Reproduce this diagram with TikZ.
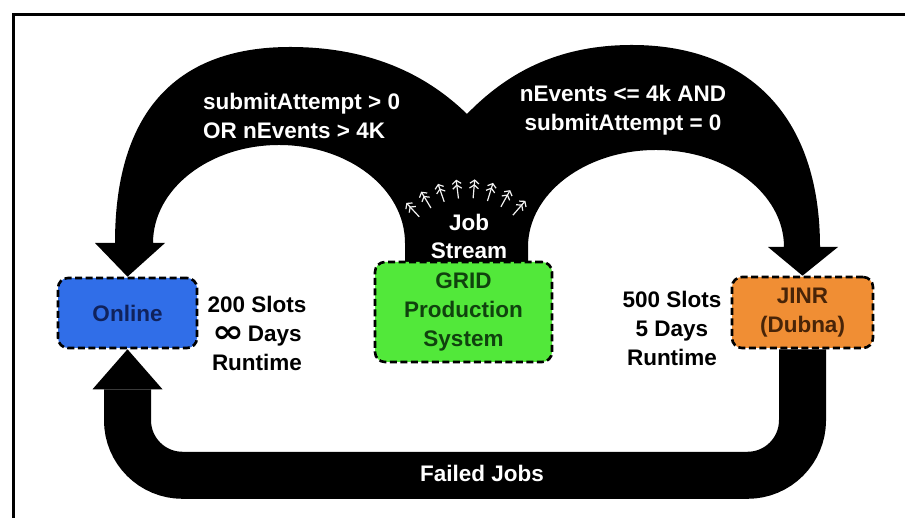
\documentclass[tikz,border=0pt]{standalone}
\usepackage{fontspec}
\setmainfont{Liberation Sans}
\newfontfamily\symfont{DejaVu Sans}
\usepackage{xcolor}
\usepackage{tikz}
\usetikzlibrary{arrows.meta,positioning,calc,backgrounds}
\definecolor{onlineblue}{RGB}{48,110,232}
\definecolor{onlinetext}{RGB}{16,34,92}
\definecolor{gridgreen}{RGB}{82,232,58}
\definecolor{gridtext}{RGB}{16,66,14}
\definecolor{jinrorange}{RGB}{240,142,52}
\definecolor{jinrtext}{RGB}{72,36,8}

\begin{document}
\begin{tikzpicture}[
  x=1pt, y=1pt,
  font=\fontsize{22.5}{29}\selectfont\bfseries,
  box/.style={draw, line width=2.6pt, dash pattern=on 7pt off 3.5pt, rounded corners=10pt, align=center, inner sep=0pt},
  caption/.style={align=center, text=black},
  flow/.style={align=center, text=white},
  band/.style={line width=47pt, rounded corners=55pt},
  jobarrow/.style={draw=gray!10, line width=1.2pt, -{Straight Barb[length=3.5pt,width=9pt]Straight Barb[length=3.5pt,width=9pt]}}
]
  \useasboundingbox (0,0) rectangle (905,518);
  \draw[line width=3pt] (13.5,0) -- (13.5,503) -- (905,503);

  \node[box, fill=onlineblue, text=onlinetext, minimum width=139pt, minimum height=70pt] (online) at (127.5,205) {Online};
  \node[box, fill=gridgreen, text=gridtext, minimum width=177pt, minimum height=100pt] (grid) at (463.5,206) {GRID\\Production\\System};
  \node[box, fill=jinrorange, text=jinrtext, minimum width=141pt, minimum height=71pt] (jinr) at (802.5,205.5) {JINR\\(Dubna)};

  \node[caption] (onlinecap) at (257,185) {200 Slots\\{\symfont\raisebox{-1.5pt}{\scalebox{1.7}[1.4]{∞}}}\,Days\\Runtime};
  \node[caption] (jinrcap) at (672,190) {500 Slots\\5 Days\\Runtime};

  \begin{scope}[on background layer]
  % job stream splitting to both sites
  \fill[black] (405,250) -- (405,275)
    arc[start angle=0, end angle=180, x radius=126, y radius=98]
    -- (165,275) -- (online.north) -- (95,275) -- (115,275)
    .. controls (115,410) and (180,471) .. (290,471)
    .. controls (375,471) and (430,440) .. (467,404)
    .. controls (505,443) and (555,473) .. (632,473)
    .. controls (745,473) and (820,405) .. (820,271)
    -- (838,271) -- (jinr.north) -- (768,271) -- (784,271)
    arc[start angle=0, end angle=180, x radius=128, y radius=97]
    -- (528,250) -- cycle;
  % failed jobs back to online
  \draw[band] (jinr.south) -- ++(0,-126) -| ($(online.south)+(0,-40)$);
  \fill[black] ($(online.south)+(-35,-40)$) -- (online.south) -- ($(online.south)+(35,-40)$) -- cycle;
  \end{scope}

  \node[flow, align=left, anchor=west, inner sep=0pt] (toonline) at (203,402) {submitAttempt > 0\\OR nEvents > 4K};
  \node[flow, inner sep=0pt] (tojinr) at (623,408) {nEvents <= 4k AND\\submitAttempt = 0};
  \node[flow, font=\fontsize{22.5}{28}\selectfont\bfseries] (stream) at (469,282) {Job\\Stream};
  \node[flow] (failed) at (482,45) {Failed Jobs};

  \coordinate (stemc) at (467,250);
  \foreach \a in {133,121,...,49}
    \draw[jobarrow] ($(stemc)+(\a:70)$) -- ($(stemc)+(\a:89)$);
\end{tikzpicture}
\end{document}
